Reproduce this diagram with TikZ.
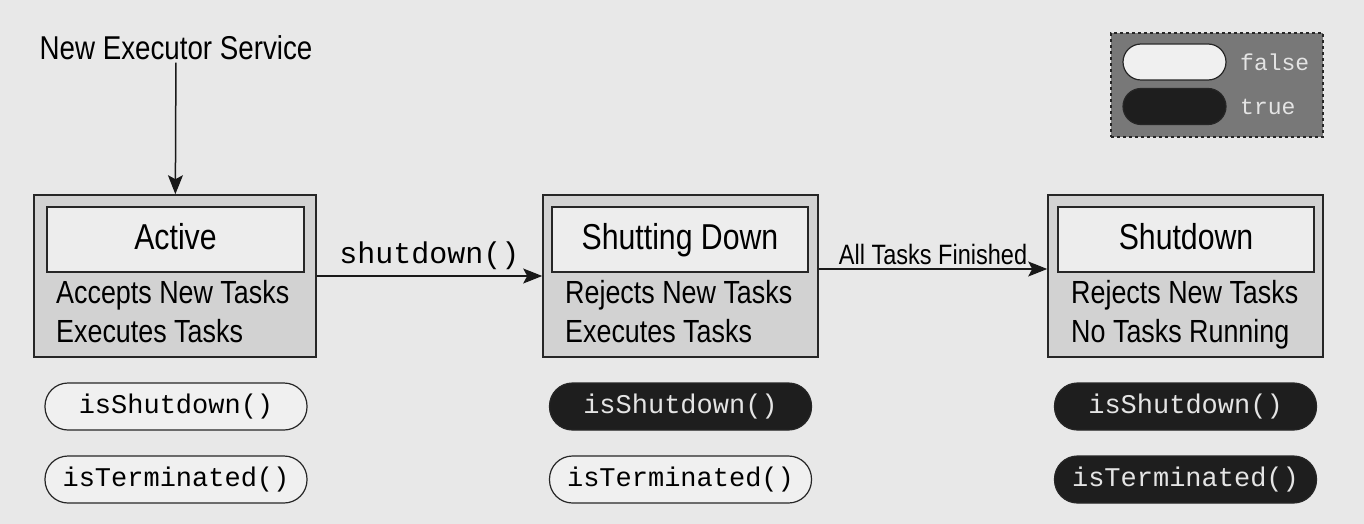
\documentclass[tikz,border=0pt]{standalone}
\usepackage{fontspec}
\setmainfont{Liberation Sans}[FakeStretch=0.84]
\setmonofont{Liberation Mono}
\usepackage{xcolor}
\usetikzlibrary{arrows.meta}

\definecolor{bggray}{HTML}{E8E8E8}
\definecolor{boxgray}{HTML}{D2D2D2}
\definecolor{titlefill}{HTML}{EDEDED}
\definecolor{pillwhite}{HTML}{F0F0F0}
\definecolor{pillblack}{HTML}{1E1E1E}
\definecolor{pilltext}{HTML}{E4E4E4}
\definecolor{legendgray}{HTML}{787878}

\begin{document}
\begin{tikzpicture}[x=1pt,y=-1pt,
  every node/.style={inner sep=0pt},
  statebox/.style={draw=black!85,line width=1.6pt,fill=boxgray,minimum width=275pt,minimum height=162pt},
  titlebox/.style={draw=black!85,line width=1.6pt,fill=titlefill,minimum width=256pt,minimum height=65pt,text height=27pt,text depth=8pt,font=\fontsize{36}{43}\selectfont},
  desc/.style={align=left,anchor=base west,font=\fontsize{32}{39}\selectfont},
  flagoff/.style={draw=black!85,line width=1.2pt,fill=pillwhite,rounded corners=23pt,minimum width=262pt,minimum height=47pt,font=\ttfamily\fontsize{27}{32}\selectfont},
  flagon/.style={flagoff,fill=pillblack,text=pilltext},
  trans/.style={draw=black!90,line width=1.5pt,-{Stealth[length=19pt,width=15pt,inset=4pt]}}]
\fill[bggray] (0,0) rectangle (1364,524);

% start
\node[anchor=base,font=\fontsize{33}{40}\selectfont,inner sep=2pt] (start) at (176,60) {New Executor Service};

% states
\node[statebox,minimum width=282pt] (active) at (175,276) {};
\node[titlebox,minimum width=257pt] (activetitle) at (175.5,239.5) {Active};
\node[desc] (activedesc) at (56,342) {Accepts New Tasks\\Executes Tasks};

\node[statebox] (shutting) at (680.5,276) {};
\node[titlebox] (shuttingtitle) at (680,239.5) {Shutting Down};
\node[desc] (shuttingdesc) at (565,342) {Rejects New Tasks\\Executes Tasks};

\node[statebox] (shutdown) at (1185.5,276) {};
\node[titlebox] (shutdowntitle) at (1186,239.5) {Shutdown};
\node[desc] (shutdowndesc) at (1071,342) {Rejects New Tasks\\No Tasks Running};

% transitions
\draw[trans] (start) -- (active);
\draw[trans] (active) -- node[above=6pt,font=\ttfamily\fontsize{30}{36}\selectfont] {shutdown()} (shutting);
\draw[trans] ([yshift=7pt]shutting.east) -- node[above=3pt,font=\fontsize{28}{34}\selectfont] {All Tasks Finished} ([yshift=7pt]shutdown.west);

% flags
\node[flagoff] (activesd) at (176,406.5) {isShutdown()};
\node[flagoff] (activeterm) at (176,479.5) {isTerminated()};
\node[flagon] (shuttingsd) at (680.5,406.5) {isShutdown()};
\node[flagoff] (shuttingterm) at (680.5,479.5) {isTerminated()};
\node[flagon] (shutdownsd) at (1185.5,406.5) {isShutdown()};
\node[flagon] (shutdownterm) at (1185.5,479.5) {isTerminated()};

% legend
\node[draw=black!85,dashed,line width=1.2pt,fill=legendgray,minimum width=212pt,minimum height=104pt] (legend) at (1217,85) {};
\node[flagoff,minimum width=103pt,minimum height=36pt,rounded corners=18pt] (keyfalse) at (1174.5,62) {};
\node[flagon,minimum width=103pt,minimum height=36pt,rounded corners=18pt] (keytrue) at (1174.5,106.5) {};
\node[anchor=west,text=pilltext,font=\ttfamily\fontsize{23}{28}\selectfont] (lblfalse) at (1240,62) {false};
\node[anchor=west,text=pilltext,font=\ttfamily\fontsize{23}{28}\selectfont] (lbltrue) at (1240,106.5) {true};
\end{tikzpicture}
\end{document}
